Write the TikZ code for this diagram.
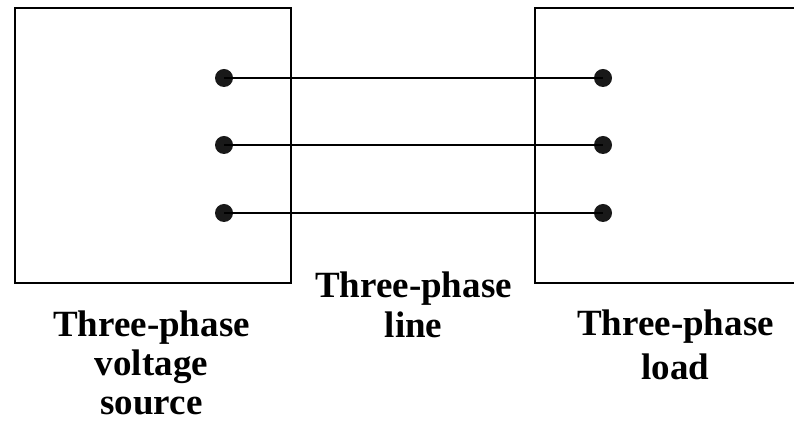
\documentclass[tikz,border=0pt]{standalone}
\usepackage{fontspec}
\setmainfont{Liberation Serif}
\begin{document}
\begin{tikzpicture}[x=1pt,y=1pt,
  unitbox/.style={draw=black,line width=1.7pt,inner sep=0pt},
  terminal/.style={circle,fill=black!90,inner sep=0pt,minimum size=18pt},
  wire/.style={draw=black,line width=1.6pt},
  caption/.style={font=\fontsize{37}{40}\selectfont\bfseries,align=center,anchor=base,inner sep=0pt}]
  \useasboundingbox (0,0) rectangle (794,422);
  \clip (0,0) rectangle (794,422);
  % source and load blocks
  \node[unitbox,minimum width=276pt,minimum height=275pt] (src) at (153,276.5) {};
  \node[unitbox,minimum width=270pt,minimum height=275pt] (load) at (670,276.5) {};
  % terminals joined by the three line conductors
  \foreach \i/\y in {1/344,2/277,3/209}{
    \node[terminal] (s\i) at (224,\y) {};
    \node[terminal] (l\i) at (603,\y) {};
    \draw[wire] (s\i.center) -- (l\i.center);
  }
  % labels (anchored at the baseline of their last line)
  \node[caption] (srclabel) at (151.5,7) {Three-phase\\[-1pt]voltage\\[-1pt]source};
  \node[caption] (linelabel) at (413.5,84) {Three-phase\\line};
  \node[caption] (loadlabel) at (675.5,42) {Three-phase\\[4pt]load};
\end{tikzpicture}
\end{document}
